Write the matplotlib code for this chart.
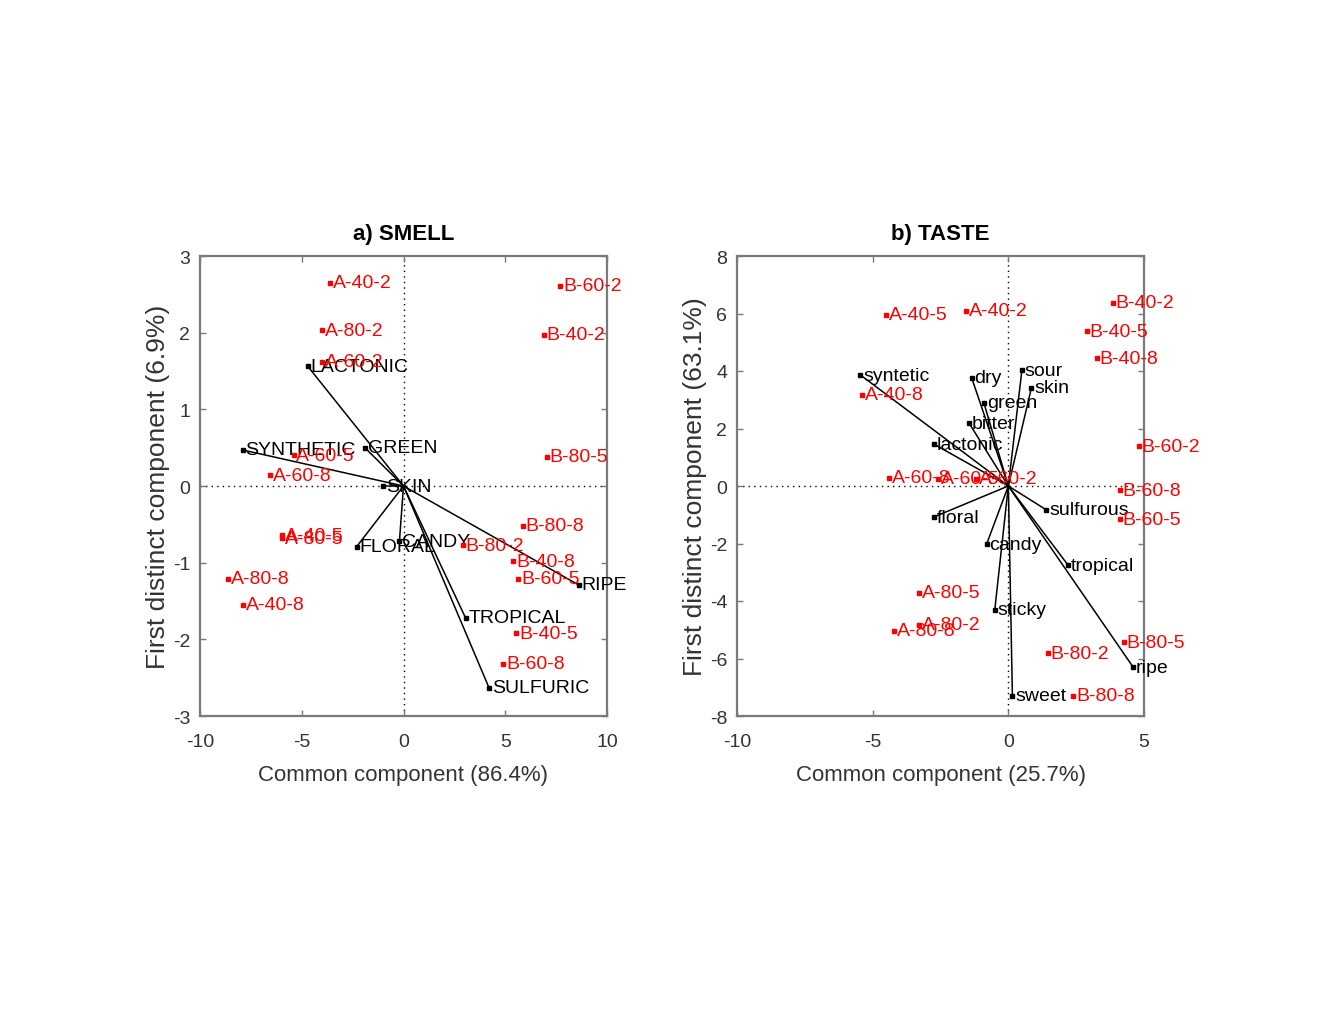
import numpy as np
import matplotlib; matplotlib.use('Agg'); import matplotlib.pyplot as plt

plt.rcParams['font.family'] = ['Liberation Sans', 'DejaVu Sans']
plt.rcParams['axes.unicode_minus'] = False

# a) SMELL -- samples (red) and attribute vectors (black)
smell_samples = ['A-40-2', 'B-60-2', 'A-80-2', 'B-40-2', 'A-60-2', 'A-60-5', 'B-80-5', 'A-60-8',
                 'A-40-5', 'A-80-5', 'B-80-2', 'B-80-8', 'B-40-8', 'B-60-5', 'A-80-8', 'A-40-8',
                 'B-40-5', 'B-60-8']
smell_sx = [-3.6, 7.7, -4.0, 6.9, -4.0, -5.4, 7.05, -6.55, -5.95, -5.95, 2.9, 5.85, 5.4, 5.65,
            -8.6, -7.9, 5.55, 4.9]
smell_sy = [2.65, 2.61, 2.03, 1.97, 1.62, 0.40, 0.38, 0.14, -0.64, -0.68, -0.77, -0.52, -0.98,
            -1.21, -1.21, -1.55, -1.92, -2.32]
smell_attr = ['LACTONIC', 'SYNTHETIC', 'GREEN', 'SKIN', 'FLORAL', 'CANDY', 'TROPICAL', 'SULFURIC', 'RIPE']
smell_ax_ = [-4.7, -7.9, -1.9, -1.0, -2.3, -0.2, 3.05, 4.2, 8.6]
smell_ay = [1.56, 0.47, 0.50, 0.0, -0.79, -0.72, -1.72, -2.63, -1.29]

# b) TASTE
taste_samples = ['A-40-5', 'A-40-2', 'B-40-2', 'B-40-5', 'B-40-8', 'A-40-8', 'B-60-2', 'A-60-8',
                 'A-60-5', 'A-60-2', 'B-60-8', 'B-60-5', 'A-80-5', 'A-80-2', 'A-80-8', 'B-80-5',
                 'B-80-2', 'B-80-8']
taste_sx = [-4.5, -1.55, 3.85, 2.9, 3.25, -5.4, 4.8, -4.4, -2.6, -1.2, 4.1, 4.1, -3.3, -3.3,
            -4.2, 4.25, 1.45, 2.4]
taste_sy = [5.95, 6.09, 6.37, 5.39, 4.45, 3.17, 1.39, 0.28, 0.25, 0.25, -0.14, -1.15, -3.72,
            -4.83, -5.04, -5.43, -5.81, -7.30]
taste_attr = ['syntetic', 'dry', 'sour', 'skin', 'green', 'bitter', 'lactonic', 'floral',
              'sulfurous', 'candy', 'tropical', 'sticky', 'ripe', 'sweet']
taste_ax_ = [-5.45, -1.35, 0.5, 0.85, -0.9, -1.45, -2.75, -2.75, 1.4, -0.8, 2.2, -0.5, 4.6, 0.15]
taste_ay = [3.86, 3.76, 4.03, 3.41, 2.89, 2.19, 1.46, -1.08, -0.83, -2.02, -2.75, -4.31, -6.30, -7.30]

FRAME = '#7a7a7a'

def biplot(ax, sn, sx, sy, an, axv, ayv, xlim, ylim, xt, yt, title, xlabel, ylabel):
    ax.axhline(0, color='k', ls=(0, (1, 3)), lw=1.0, zorder=1)
    ax.axvline(0, color='k', ls=(0, (1, 3)), lw=1.0, zorder=1)
    for n, x, y in zip(an, axv, ayv):
        ax.plot([0, x], [0, y], color='k', lw=1.1, zorder=2)
        ax.plot(x, y, 's', color='k', ms=2.2, zorder=3)
        ax.annotate(n, (x, y), xytext=(2, 0), textcoords='offset points', va='center', ha='left',
                    fontsize=14, color='k')
    for n, x, y in zip(sn, sx, sy):
        ax.plot(x, y, 's', color='red', ms=2.2, zorder=3)
        ax.annotate(n, (x, y), xytext=(2, 0), textcoords='offset points', va='center', ha='left',
                    fontsize=14, color='red')
    ax.set_xlim(xlim); ax.set_ylim(ylim)
    ax.set_xticks(xt); ax.set_yticks(yt)
    ax.tick_params(direction='in', length=4, width=1, color=FRAME, top=True, right=True,
                   labelsize=14, labelcolor='#333333')
    ax.tick_params(axis='x', pad=12)
    ax.tick_params(axis='y', pad=7)
    for s in ax.spines.values():
        s.set_color(FRAME); s.set_linewidth(1.6)
    ax.set_title(title, fontsize=16, fontweight='bold', pad=12)
    ax.set_xlabel(xlabel, fontsize=16, labelpad=10, color='#333333')
    ax.set_ylabel(ylabel, fontsize=19, labelpad=2, color='#333333')

fig = plt.figure(figsize=(13.2, 10.2), dpi=100)
ax1 = fig.add_axes([200/1320, 303/1020, 407/1320, 460/1020])
ax2 = fig.add_axes([737/1320, 303/1020, 407/1320, 460/1020])
biplot(ax1, smell_samples, smell_sx, smell_sy, smell_attr, smell_ax_, smell_ay,
       (-10, 10), (-3, 3), [-10, -5, 0, 5, 10], [-3, -2, -1, 0, 1, 2, 3],
       'a) SMELL', 'Common component (86.4%)', 'First distinct component (6.9%)')
biplot(ax2, taste_samples, taste_sx, taste_sy, taste_attr, taste_ax_, taste_ay,
       (-10, 5), (-8, 8), [-10, -5, 0, 5], [-8, -6, -4, -2, 0, 2, 4, 6, 8],
       'b) TASTE', 'Common component (25.7%)', 'First distinct component (63.1%)')
fig.savefig('out.png', dpi=100)
